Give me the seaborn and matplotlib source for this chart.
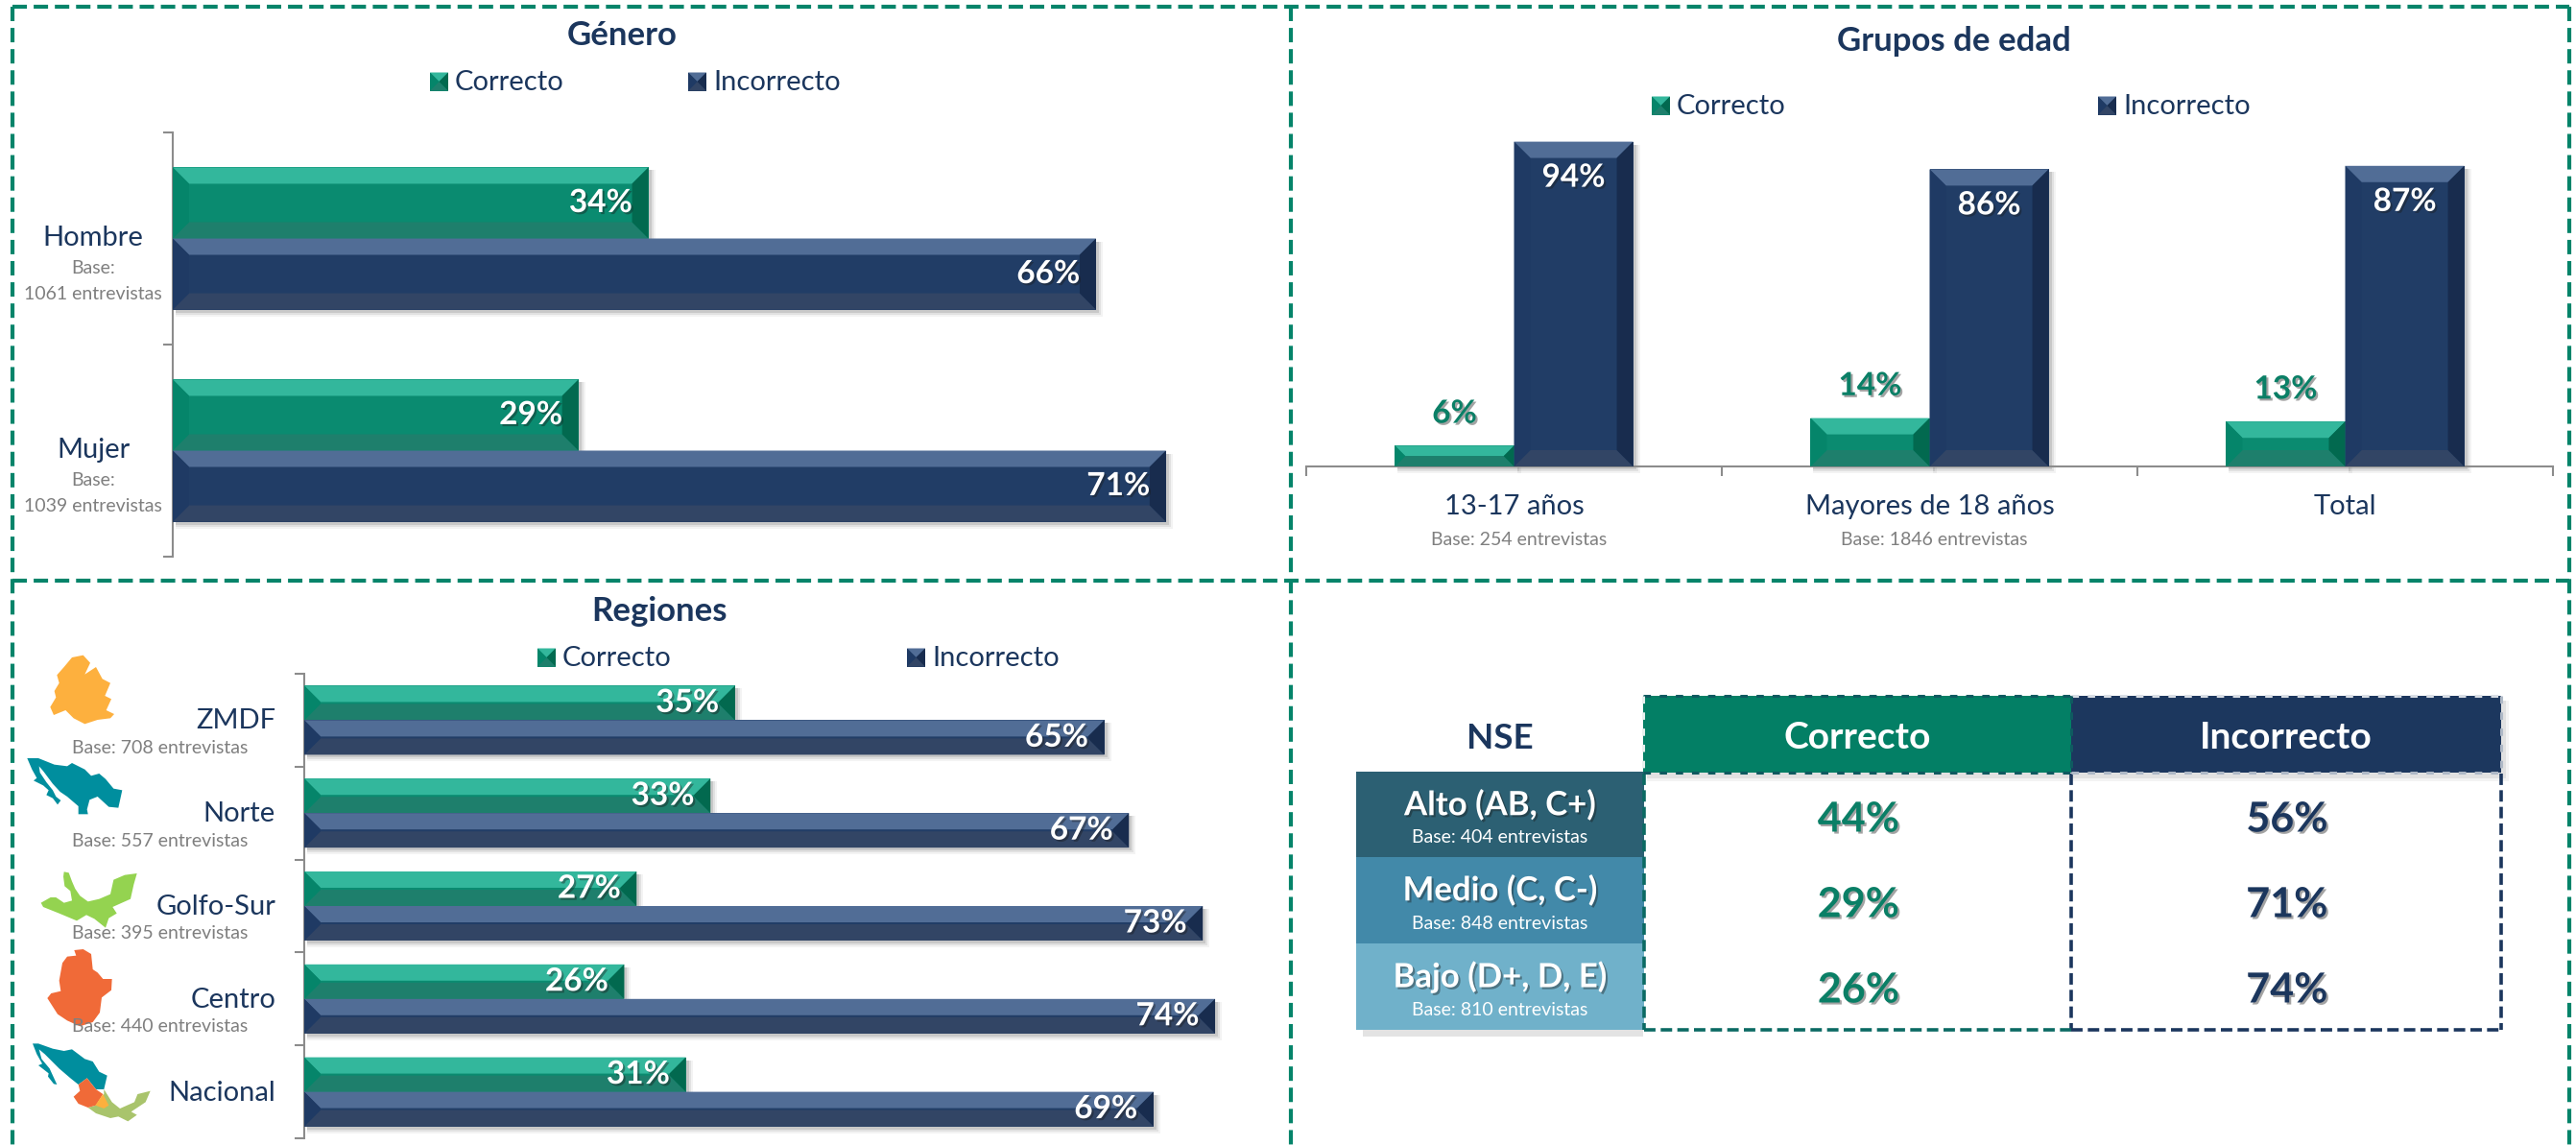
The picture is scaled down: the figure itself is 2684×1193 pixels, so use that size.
import matplotlib
matplotlib.use("Agg")
import matplotlib.pyplot as plt
import matplotlib.patheffects as pe
from matplotlib.colors import ListedColormap
from matplotlib.lines import Line2D
from matplotlib.patches import Polygon, Rectangle
import numpy as np
import pandas as pd
import seaborn as sns

# data
hue_names = ["Correcto", "Incorrecto"]

genero = ["Hombre", "Mujer"]
genero_base = ["1061 entrevistas", "1039 entrevistas"]
genero_ok = [34, 29]
genero_bad = [66, 71]

edad = ["13-17 años", "Mayores de 18 años", "Total"]
edad_base = ["Base: 254 entrevistas", "Base: 1846 entrevistas", ""]
edad_ok = [6, 14, 13]
edad_bad = [94, 86, 87]

regiones = ["ZMDF", "Norte", "Golfo-Sur", "Centro", "Nacional"]
regiones_base = ["Base: 708 entrevistas", "Base: 557 entrevistas", "Base: 395 entrevistas",
                 "Base: 440 entrevistas", ""]
regiones_ok = [35, 33, 27, 26, 31]
regiones_bad = [65, 67, 73, 74, 69]

nse = ["Alto (AB, C+)", "Medio (C, C-)", "Bajo (D+, D, E)"]
nse_base = ["Base: 404 entrevistas", "Base: 848 entrevistas", "Base: 810 entrevistas"]
nse_ok = [44, 29, 26]
nse_bad = [56, 71, 74]

# colours
NAVY = "#1B365D"
GRAY = "#7F7F7F"
AXIS = "#8C8C8C"
BEV_OK = dict(top="#33B79C", mid="#0A8B70", bot="#1E7F6C", left="#05856A", right="#02694F")
BEV_BAD = dict(top="#516D96", mid="#213D66", bot="#324565", left="#1F3A64", right="#182C4E")
NSE_COL = ["#2C6073", "#4289A9", "#70B1CA"]

sns.set_theme(style="white")
plt.rcParams["font.family"] = ["Lato", "DejaVu Sans"]

W, H = 2684, 1193
fig = plt.figure(figsize=(W / 100, H / 100), dpi=100, facecolor="white")

# pixel overlay, y goes down, for frames, titles, legends
ov = fig.add_axes([0, 0, 1, 1])
ov.set_xlim(0, W)
ov.set_ylim(H, 0)
ov.axis("off")

shadow = [pe.withSimplePatchShadow(offset=(1.5, -1.5), shadow_rgbFace="k", alpha=0.4)]


def make_ax(x0, y0, x1, y1):
    a = fig.add_axes([x0 / W, 1 - y1 / H, (x1 - x0) / W, (y1 - y0) / H])
    a.patch.set_alpha(0)
    return a


def to_px(a, x, y):
    return ov.transData.inverted().transform(a.transData.transform((x, y)))


def bevel(a, x0, y0, x1, y1, pal, b=17, z=3):
    # x0,y0,x1,y1 in pixels, y down
    tr = ov.transData
    b = min(b, (y1 - y0) / 2, (x1 - x0) / 2)
    pieces = [
        ("mid", [(x0, y0), (x1, y0), (x1, y1), (x0, y1)]),
        ("top", [(x0, y0), (x1, y0), (x1 - b, y0 + b), (x0 + b, y0 + b)]),
        ("bot", [(x0, y1), (x1, y1), (x1 - b, y1 - b), (x0 + b, y1 - b)]),
        ("left", [(x0, y0), (x0 + b, y0 + b), (x0 + b, y1 - b), (x0, y1)]),
        ("right", [(x1, y0), (x1 - b, y0 + b), (x1 - b, y1 - b), (x1, y1)]),
    ]
    for k, pts in pieces:
        a.add_patch(Polygon(pts, closed=True, fc=pal[k], ec="none", transform=tr, clip_on=False, zorder=z))


def bar_shadow(a, x0, y0, x1, y1, z=2.5):
    for off, al in [(7, 0.05), (5, 0.08), (3, 0.12)]:
        a.add_patch(Rectangle((x0 + 3, y0 + 3), x1 - x0 + off - 3, y1 - y0 + off - 3, fc="k", ec="none",
                              alpha=al, transform=ov.transData, clip_on=False, zorder=z))


def dress_bars(a):
    # bevels and shadows follow the bars seaborn drew
    for cont, pal in zip(a.containers, [BEV_OK, BEV_BAD]):
        for p in cont.patches:
            xa, ya = to_px(a, p.get_x(), p.get_y())
            xb, yb = to_px(a, p.get_x() + p.get_width(), p.get_y() + p.get_height())
            x0, x1 = sorted([xa, xb])
            y0, y1 = sorted([ya, yb])
            bar_shadow(a, x0, y0, x1, y1)
            bevel(a, x0, y0, x1, y1, pal)


def swatch(x, y, pal):
    bevel(ov, x, y - 9.5, x + 19, y + 9.5, pal, b=9.5)


def legend(y, x_ok, x_bad):
    swatch(x_ok, y, BEV_OK)
    swatch(x_bad, y, BEV_BAD)
    ov.text(x_ok + 26, y + 1, hue_names[0], color=NAVY, fontsize=21, va="center")
    ov.text(x_bad + 26, y + 1, hue_names[1], color=NAVY, fontsize=21, va="center")


def title(txt, x, y):
    ov.text(x, y + 2, txt, color=NAVY, fontsize=25, fontweight="bold", ha="center", va="center")


def long_table(col, cats, ok, bad):
    return pd.DataFrame({col: cats * 2,
                         "grupo": [hue_names[0]] * len(cats) + [hue_names[1]] * len(cats),
                         "valor": ok + bad})


def pct(cont):
    return [f"{int(v)}%" for v in cont.datavalues]


pal_main = {hue_names[0]: BEV_OK["mid"], hue_names[1]: BEV_BAD["mid"]}


def hbars(df, col, box, scale_max, width):
    a = make_ax(*box)
    sns.barplot(data=df, y=col, x="valor", hue="grupo", hue_order=hue_names, palette=pal_main,
                width=width, gap=0, saturation=1, legend=False, ax=a)
    n = df[col].nunique()
    a.set_xlim(0, scale_max)
    a.set_ylim(n - 0.5, -0.5)
    a.set_xlabel("")
    a.set_ylabel("")
    a.set_xticks([])
    a.set_yticks(range(n))
    a.set_yticklabels([""] * n)
    a.set_yticks(np.arange(-0.5, n), minor=True)
    a.tick_params(axis="y", which="major", length=0)
    a.tick_params(axis="y", which="minor", length=7, width=1.5, color=AXIS, left=True)
    sns.despine(ax=a, top=True, right=True, bottom=True)
    a.spines["left"].set_color(AXIS)
    a.spines["left"].set_linewidth(1.5)
    dress_bars(a)
    for c in a.containers:
        labs = a.bar_label(c, labels=pct(c), label_type="edge", padding=-12, color="white", fontsize=24,
                           fontweight="bold", zorder=6, path_effects=shadow)
        for t in labs:
            t.set_ha("right")
            t.set_va("center")
    return a


# frames
for xs, ys in [((13, 2677), (7, 7)), ((13, 2677), (605, 605)), ((13, 13), (7, H)),
               ((1345, 1345), (7, H)), ((2677, 2677), (7, H))]:
    ov.add_line(Line2D(xs, ys, color="#05846A", lw=3, dashes=(3.6, 1.7)))

# Genero
title("Género", 648, 35)
legend(85, 448, 717)
ax1 = hbars(long_table("cat", genero, genero_ok, genero_bad), "cat", (180, 138, 1346, 580), 80, 0.67)
for i, (c, b) in enumerate(zip(genero, genero_base)):
    yc = to_px(ax1, 0, i)[1]
    ov.text(97, yc, c, color=NAVY, fontsize=21, ha="center", va="center")
    ov.text(97, yc + 31, "Base:", color=GRAY, fontsize=14, ha="center", va="center")
    ov.text(97, yc + 58, b, color=GRAY, fontsize=14, ha="center", va="center")

# Grupos de edad
title("Grupos de edad", 2036, 41)
legend(110, 1721, 2186)
ax2 = make_ax(1361, 126, 2660, 486)
sns.barplot(data=long_table("cat", edad, edad_ok, edad_bad), x="cat", y="valor", hue="grupo",
            hue_order=hue_names, palette=pal_main, width=0.573, gap=0, saturation=1, legend=False, ax=ax2)
ax2.set_xlim(-0.5, 2.5)
ax2.set_ylim(0, 100)
ax2.set_xlabel("")
ax2.set_ylabel("")
ax2.set_yticks([])
ax2.set_xticks(range(3))
ax2.set_xticklabels([""] * 3)
ax2.set_xticks(np.arange(-0.5, 3), minor=True)
ax2.tick_params(axis="x", which="major", length=0)
ax2.tick_params(axis="x", which="minor", length=7, width=1.5, color=AXIS, bottom=True)
sns.despine(ax=ax2, top=True, right=True, left=True)
ax2.spines["bottom"].set_color(AXIS)
ax2.spines["bottom"].set_linewidth(1.5)
dress_bars(ax2)
labs = ax2.bar_label(ax2.containers[0], labels=pct(ax2.containers[0]), padding=24, color="#0A7F66",
                     fontsize=24, fontweight="bold", zorder=6, path_effects=shadow)
labs += ax2.bar_label(ax2.containers[1], labels=pct(ax2.containers[1]), padding=-27, color="white",
                      fontsize=24, fontweight="bold", zorder=6, path_effects=shadow)
for t in labs:
    t.set_va("center")
for i, (c, b) in enumerate(zip(edad, edad_base)):
    xc = to_px(ax2, i, 0)[0]
    ov.text(xc, 528, c, color=NAVY, fontsize=21, ha="center", va="center")
    ov.text(xc + 5, 563, b, color=GRAY, fontsize=14, ha="center", va="center")

# Regiones
title("Regiones", 687, 635)
legend(685, 560, 945)
ax3 = hbars(long_table("cat", regiones, regiones_ok, regiones_bad), "cat", (317, 702, 1343, 1186), 80, 0.744)
for i, (c, b) in enumerate(zip(regiones, regiones_base)):
    yc = to_px(ax3, 0, i)[1]
    ov.text(287, yc + 1, c, color=NAVY, fontsize=21, ha="right", va="center")
    if b:
        ov.text(75, yc + 29, b, color=GRAY, fontsize=14, ha="left", va="center")

# region icons, rough silhouettes traced from crops, 3x crop pixels
zm = [(165, 45), (200, 38), (222, 62), (205, 98), (240, 75), (260, 112), (285, 125), (268, 165), (288, 175),
      (272, 210), (297, 222), (285, 235), (245, 240), (205, 253), (170, 235), (145, 210), (108, 225), (97, 200),
      (115, 170), (110, 150), (125, 125), (118, 100), (140, 75)]
norte = [(25, 30), (60, 30), (110, 50), (150, 55), (165, 45), (205, 65), (225, 85), (250, 78), (270, 95),
         (295, 125), (322, 130), (310, 185), (280, 182), (245, 150), (220, 160), (212, 190), (215, 205),
         (185, 205), (185, 180), (150, 150), (128, 135), (105, 110), (75, 70), (62, 55), (65, 75), (85, 105),
         (105, 130), (115, 150), (130, 162), (120, 175), (105, 155), (85, 145), (92, 130), (75, 115), (45, 100),
         (55, 92), (40, 65)]
golfo = [(110, 25), (125, 28), (135, 55), (145, 78), (160, 100), (185, 118), (220, 110), (255, 95), (265, 50),
         (300, 35), (338, 30), (328, 65), (318, 110), (262, 135), (275, 155), (250, 170), (240, 200), (205, 172),
         (180, 160), (150, 178), (95, 155), (45, 135), (38, 122), (68, 105), (85, 105), (110, 122), (135, 115),
         (130, 85), (112, 70), (108, 40)]
centro = [(142, 30), (170, 27), (195, 42), (200, 90), (215, 100), (232, 120), (260, 120), (258, 155), (228, 178),
          (222, 225), (200, 255), (160, 268), (120, 250), (90, 230), (58, 180), (70, 165), (100, 158), (95, 125),
          (105, 70), (120, 50), (148, 47)]
nac_n = [(42, 22), (60, 22), (105, 38), (140, 45), (165, 40), (205, 70), (230, 78), (250, 110), (275, 122),
         (265, 165), (240, 165), (212, 130), (185, 150), (160, 130), (125, 100), (80, 55), (62, 40), (70, 70),
         (95, 100), (118, 150), (108, 148), (90, 125), (92, 115), (60, 90), (72, 85), (55, 55)]
nac_s = [(265, 165), (290, 205), (315, 225), (360, 205), (370, 180), (410, 170), (395, 205), (350, 235),
         (368, 245), (340, 265), (310, 250), (285, 255), (240, 240), (215, 222), (240, 215), (265, 180)]
nac_c = [(212, 130), (240, 165), (262, 180), (240, 215), (215, 222), (185, 210), (170, 188), (190, 170), (185, 150)]
nac_d = [(262, 180), (280, 215), (265, 225), (238, 215)]
for pts, col, ox, oy in [(zm, "#FDB03E", 20, 670), (norte, "#008E9E", 20, 780), (golfo, "#94D350", 30, 900),
                         (centro, "#F06A38", 30, 980), (nac_n, "#008E9E", 20, 1080), (nac_s, "#A9C46C", 20, 1080),
                         (nac_c, "#F06A38", 20, 1080), (nac_d, "#FDB03E", 20, 1080)]:
    ov.add_patch(Polygon([(ox + x / 3, oy + y / 3) for x, y in pts], closed=True, fc=col, ec="none"))

# NSE table
ov.text(1563, 769, "NSE", color=NAVY, fontsize=26.5, fontweight="bold", ha="center", va="center")
row_tops = [804, 893, 983, 1073]
ov.add_patch(Rectangle((1420, 810), 292, 270, fc="k", ec="none", alpha=0.12))
for i in range(3):
    ov.add_patch(Rectangle((1413, row_tops[i]), 300, row_tops[i + 1] - row_tops[i], fc=NSE_COL[i], ec="none"))
    ov.text(1563, row_tops[i] + 35, nse[i], color="white", fontsize=25, fontweight="bold", ha="center",
            va="center", path_effects=shadow)
    ov.text(1563, row_tops[i] + 69, nse_base[i], color="white", fontsize=14, ha="center", va="center")

for off, al in [(8, 0.05), (5, 0.08)]:
    ov.add_patch(Rectangle((1716, 730), 890 + off, 76 + off, fc="k", ec="none", alpha=al))
ov.add_patch(Rectangle((1712, 725), 446, 80, fc="#037F65", ec="none"))
ov.add_patch(Rectangle((2158, 725), 448, 80, fc="#1C375E", ec="none"))
ov.text(1935, 768, hue_names[0], color="white", fontsize=28, fontweight="bold", ha="center", va="center")
ov.text(2382, 768, hue_names[1], color="white", fontsize=28, fontweight="bold", ha="center", va="center")

ax4 = make_ax(1713, 809, 2606, 1076)
tab = pd.DataFrame({hue_names[0]: nse_ok, hue_names[1]: nse_bad}, index=nse)
sns.heatmap(tab, annot=np.array([[f"{a}%", f"{b}%"] for a, b in zip(nse_ok, nse_bad)]), fmt="",
            cmap=ListedColormap(["white"]), cbar=False, xticklabels=False, yticklabels=False,
            annot_kws=dict(fontsize=31, fontweight="bold"), ax=ax4)
ax4.collections[0].set_visible(False)
for i, t in enumerate(ax4.texts):
    t.set_color("#0A7F66" if i % 2 == 0 else NAVY)
    t.set_path_effects(shadow)
    t.set_zorder(6)
ax4.set_xlabel("")
ax4.set_ylabel("")

# dashed box lines of the table, drawn on top
top = fig.add_axes([0, 0, 1, 1])
top.set_xlim(0, W)
top.set_ylim(H, 0)
top.axis("off")
top.patch.set_alpha(0)
dash = (3.3, 1.5)
for xs, ys, col in [((2158, 2158), (806, 1073), NAVY), ((2606, 2606), (806, 1073), NAVY),
                    ((2158, 2606), (1073, 1073), NAVY), ((1713, 1713), (806, 1073), "#0B6A63"),
                    ((1713, 2158), (1073, 1073), "#0B6A63")]:
    top.add_line(Line2D(xs, ys, color=col, lw=2.6, dashes=dash))
for xs, ys, col in [((1712, 2158), (725, 725), "#0F5A60"), ((1712, 2158), (805, 805), "#0F5A60"),
                    ((1712, 1712), (725, 805), "#E8F0EE"), ((2158, 2606), (725, 725), "#D8DDE4"),
                    ((2158, 2606), (805, 805), "#AEB8C6"), ((2606, 2606), (725, 805), "#AEB8C6"),
                    ((2158, 2158), (725, 805), "#0F5A60")]:
    top.add_line(Line2D(xs, ys, color=col, lw=2.2, dashes=(2.5, 3)))

fig.savefig("out.png", dpi=100, facecolor="white")
